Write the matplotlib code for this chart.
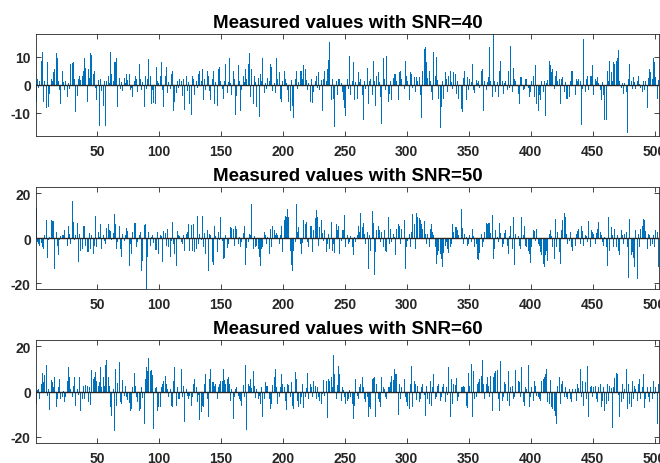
import numpy as np
import matplotlib.pyplot as plt

snr_levels = [40, 50, 60]

snr40 = [
    -6, 2, -1, 1.5, 8.5, 11.7, -6, 1.5, -8.3, 8, -8, -3.2, 2, 1.5, 4.5, 5.7, 11.4, 9.5, 1.2, -2, -7, 5, 1, -2, 1.4,
    -4.5, 0.8, -1.5, 7.5, 7.7, 8, 2.2, -9.8, -4, 2, 3, 1.8, 3, 5, 9.5, 6, -6, 5.7, 2.5, 11.5, 10.6, 4, 5, -1.3, -5.6,
    1.8, -14.8, 2, -2.2, -7.6, 1.2, -14.8, 1.5, 3, 0.8, 11.7, 4, 1.3, 8, 8, 9.5, -8, 2.4, -1.6, 1, -2.3, 2.5, 0.7, 4, 1.6,
    4, -1.8, -1, -4.5, 1.2, 3, 2, -2.7, 7.5, 2, -2, 1.1, -8, 3, -1.5, 2, 9.3, 3, -7, -2, -6.5, -7, 6.5, 1.3, 0.5,
    3, 8, -2, -8, 3, 6.5, -3, 1, -1.5, 4, 5, -9.5, -6, -3, 1.4, -1, 2, 1.2, -4, 2, -9, 3, -2.2, 1, -7,
    -10.7, 3, 2, -3.8, 1.5, -1, 4, 5, 1.2, 5.7, -5.6, 2, -1.8, 4.8, 3, -2.2, -5.6, 2, 4.8, -7, 1, -7.4, 5.7, 6.3, 1.2,
    -1.4, -5, 1.5, 7.5, -3, 1, 9.5, 0.5, -3.8, 4.8, 2, -10.7, -4, 7, 1.5, -9.2, -2, 3, 1, 5.7, 2, 7.5, 11.4, -4.4, 5.7,
    -6.8, 3.3, 1, -8, 2.3, -11.5, 4, 1.5, 9.5, -3, 0.6, -1.4, 2.4, 1.2, 7.5, 6.3, -2.1, 0.7, -3, 9.5, 2, 4.5, -5, -6, 1.3,
    5, 2, 0.5, -2, -6, -9.2, 1.8, -7.4, -12, 2, 4.8, -1.5, 1, 4.8, 5, 2, 7, 5.7, 1.6, -2, 0.6, -6, 2.2, -6.4, -2.6,
    1.3, 3.3, -1.2, 4.5, -2, 1.7, -9.2, 2, 5, 1.5, 5.7, 9, 15.5, -5.6, 2, -5, -15, 1.2, -3.8, 2, 2, 0.6, -2.5, -5.6, -8.3,
    -11, 2, -1.4, 10.5, -3.8, 1.5, 8, -5.6, 1, -5, 4.5, 1, 2.2, -3.8, -12.7, 1.2, -1.6, 6, -6.8, 1.4, 2, -3.8, 8.7, 1.2, -7.4,
    3.3, 4.5, 1, -4.4, -14, 9.5, 2, -1.8, 10.5, -6.2, -3.2, 1.3, -5.6, 2.4, 3.9, 3.9, 1.5, -5.6, 4.5, 4.8, 2, -2.2, -1.4, 8.7, 3.3,
    1.2, -5.6, 4.5, 3.9, -1, 2.7, -2.6, 2.7, 1.2, 2.7, -3.8, -12, 5.1, 12.9, 13.5, 8, 2.5, 5.1, 1.4, -2.6, -5.6, 11.7, 3.3, 9.9, 1.6,
    -5, -15.5, -8, 1.2, -5, 4.5, 2, -2.6, 3.3, 5.1, 1, -1.4, 4.5, 3.9, -3.2, 1.3, -5, -3.8, -8.6, -9.8, 2.4, 4.8, -5.6, 2.7, -2,
    2, 1, 7.5, -2, -2.9, 1.6, 0.5, 1.5, -1.2, 4.8, 5.7, -9.2, 1.5, -2, 1.1, 2.7, 13.5, 1.2, -4.4, 18.2, 1.5, -2.6, 1, -4.4, 5.1,
    8.7, 1.5, -3.2, 0.6, 1.3, -2, 5.1, -1.2, 14, -2.6, 6, 2.1, 1.5, -1, -3.2, -6.8, 2.7, 2.7, -2, -1.4, 2.1, 2.1, -1.1, -4.4, -2.6,
    1.2, 3.3, -4.4, 7, -6.8, -9.2, -3.8, -5.6, 1.4, -2.6, 1.5, -11, 0.5, 1.6, 8.7, 7.1, 4.5, 5.7, -1.4, 3.3, 5, 1.3, 2.1, -6.8, 2.1,
    2.7, -2.6, 1.1, -5, -5, -4.4, 1.3, 5, 4.8, 8, -3.8, 2.1, 1.5, 2.1, 1.2, -14.5, -1.4, 16.4, -2.6, 2.1, 3, -2, 3.3, 3.3, 7.1,
    -3.8, 2.1, 1.4, 2.7, 0.5, -2, -5.6, 1.1, -3.8, -12.7, -12.7, 5.1, 1.2, 8.7, 4.5, 1.5, 8, 7.5, 8.7, 9.5, 12.3, 1.2, -1.3, 0.5, -3.2,
    0.6, -2.6, -17.3, 2.1, 7.5, 1.2, -1.5, 2.7, 1, -1.4, 1.5, 3.3, 0.4, -1.1, -2.6, 1.5, -2, 1.3, -8.3, 2.4, 5.5, 4.5, 2, 9.5, 8,
    2.7, -5, 1.8,
]

snr50 = [
    13.5, -1.5, -2.5, -3.5, -2.2, -4, -4.7, 1.3, 8.1, -8.7, -1, 0.5, 8.1, 7.8, 7.4, -13.6, 2.7, -3.3, -7.7, -1, 0.8, 1.5, 1.2, 3.4, -0.6,
    -3.3, 5.6, 1.9, -2.4, 16.7, 7.1, -1, 1.6, 6.7, -10.7, 1.9, -5.5, -4.9, 5.6, 5.2, -3.3, -6.2, -6.2, 2.2, -4.7, 1.2, -7, -3.3, 9.8, -4,
    2.7, 0.5, 6.1, -4.7, 1.2, -1.4, -2.5, 4.4, 6.4, 3.4, 3, -1, 2.3, 10.8, 6.4, -4.7, -1.8, 5.2, -4.7, -8.4, 1.9, -1.2, 1.2, 4.6, 3.1,
    -12.6, -2.7, -7, 2.7, 6.8, 6.7, -4, -1.7, 1.2, 2.7, -14.4, -10, 5.8, 6.1, -22.5, -8.4, 2.7, -3.3, 0.4, 1.2, -2, -5.2, -5.2, 2.7, -7,
    1.2, 0.9, -10.7, 3, 2.4, -3.3, 4.1, -4, -8.4, -1.3, 7.1, -2.5, -7, -12.4, 3, 1.2, 0.9, -1.6, -2.8, 1.2, -5.5, 1.9, 2.7, 6.4, -5.5,
    6, -5.5, 6.4, -6.2, -4.7, 10, -2.5, 1.9, -0.9, 10, -4, 2.2, -7, 3.4, -14.4, 1.9, 1.2, -10.7, -12.1, 5.2, 0.9, -6.2, 2.7, -1, 9.6,
    -1.3, -9.2, -8.7, 1.6, -4.3, -2.5, -0.3, 4.9, 4.6, 4.2, -3.6, 5.2, 3.9, -2.5, 0.6, -4, -1.6, 2.4, 5.3, -12.1, -4.3, -1.5, 1.9, 1.5, 15,
    -4.7, 1.1, -4, -3.3, -4.7, -8.4, -12.6, -4.7, -4, 2.7, 1.2, -2.8, 0.7, -7, 3.9, -4, 5.2, 3.4, 1.2, 2.2, 1.4, -2.5, 1.2, 5.6, -6.2,
    7.9, 10, 9.3, 13, 9.3, -5.5, -12.1, -14.7, -5.5, -1.8, 15, 2.8, 4.9, -2.5, -7, -2, 7.9, 6.4, 7, -1.8, -4, 5.6, 5.2, -6.2, 3.4,
    9, 12.6, 9.3, -3.3, 4.9, 7.9, 2.2, -1.4, 3.4, -6.2, -2.5, 1.7, -4.7, 7.1, -5.5, -2.8, -6.7, 6.1, 3.4, 5.6, -7, -1.1, 3.4, 3.4, 10.5,
    -4, 1.3, -2.5, -1.8, 0.9, -4, -7.7, 0.4, -1.9, 1.2, 5.2, 2.6, 11.1, 4.9, 6.8, 1.9, -2.5, 2.7, -13.6, 1.5, -5.8, 12, 6.7, -16.6, -6.2,
    3.4, 5.6, 3.4, -1.8, 2.7, -4, 3.4, -5.5, -6.2, 9.6, -2.8, 4.1, -1.8, 1.9, 0.6, -7.4, 4.1, 6.1, 5.6, -2.5, 4.1, 4.9, 8.1, -13.6, -4,
    -1.2, 1.9, -4, 2.7, 10.8, 6.4, -4.7, 11.1, 9.3, 9, 7.9, 6.4, 4.2, 7.6, 1.8, -2.5, 1.9, -4, 4.2, 6.1, 2.7, 1.2, -4, -11.4, -7.7,
    -5.5, -7, -9.2, -12.9, -6.4, -3.3, -1.8, -4.7, -6.5, -3.9, -2.5, 6.1, 2.7, 4.9, 4.9, 3.4, 1.4, 2.7, 13, 4.6, -2.5, 1.9, 0.7, -3.3, -2.5,
    1.2, -1.8, 4.2, 1.1, -4, -2.5, -9.2, -9.6, -6.5, 1.9, -4, -1.6, 2.7, 6.7, 6.4, 6.7, 6.7, 2.4, 10.5, -9.2, -4.7, 3.4, 0.5, -1.8, 6.8,
    2.1, -4, -2.5, 2.4, 3.4, -3.3, -7, 0.9, 5.2, -4.7, 9.3, -12.1, 1.9, 1.2, 0.8, -3.3, -4.7, 9.3, 1.6, 5.6, -3.3, -4, -5.5, -7, -11.1,
    -4, 3.4, 3, -1.4, 3.9, -2.5, -3.3, -6.2, -7.7, -11.4, -12.9, -7.7, -5.5, -10, 1.9, 3.4, 1, -4, -9.2, 8.6, -4, 2.7, -6.2, -11.7, 3.4,
    7.9, 11.3, 9.3, 1.9, -2.5, -1.3, 2.7, -4, -5.5, -7.3, -3.3, 1.9, 3, 3.9, -2.5, 5.6, 3.1, -3.3, 1.6, 0.9, -1.8, 7.6, -4, 3.4, 2.7,
    1.9, -2.5, 2.2, 3.9, 7.1, 2.7, 1.2, -1.8, -3.3, 0.6, -4, -12.6, 9.3, -5.5, 4.9, 1.2, -4, 4.2, -4, 1.2, -5.5, -7.3, 3.4, 1.4, -2.5,
    1.9, 2.7, -4, -17.6, 8.3, -7.7, -6.2, -8.9, -12.9, 3.4, -18, 1.9, -4, 4.2, 5.6, 8.6, 7.9, 3.1, -4.7, 1.9, 1.2, -3.3, -2.5, 1.2, -4,
    3.4, 2.7, -13,
]

snr60 = [
    -5.5, 0.6, 1.3, -3.3, 3.4, 8.1, 4.4, 7.4, 11.6, -1.8, 1.2, -8.1, 5.2, 4.2, 2.2, 6.7, -7, -3.3, 1.9, 5.6, -3.3, -2.5, 0.4, -4.7, -2.5,
    4.9, 11.1, 6.7, 1.2, -2.2, 2.7, 6.7, -6.2, 1.2, -1.4, 6.7, -8.4, -3.3, 2.7, -3.3, 3, 2.7, -4.7, 2.2, -5.8, 9.6, 5.6, 6.7, 8.6, 4.9,
    2.7, 4.2, 11.1, 1.9, 6.7, 2.5, 11.6, 13.8, 6.4, 2.7, -6.7, -10.7, 1.2, -17.3, 9.8, -6.2, 3.7, 13, -4.7, -5.5, 5.2, -1.8, 2.7, -2.5, -3.7,
    -5.2, -8.4, -7.7, 1.9, 8.1, 2.4, -2.5, -4.7, -8.7, -7.7, 1.9, -2.8, -14.1, 5.6, 10.8, 9.3, 15, 9.3, 9.6, 7.4, -16.6, 1.6, 1.9, -8.4, -7,
    -7, 2.2, 3.4, 4.9, 7.1, 3.4, 1.1, -2.5, 1.2, -6.2, -7, 4.9, 10.8, -6.2, 1.9, -3.3, -3.3, 10, -2.5, 2.7, -13.3, 1.2, -1.8, -3.3, -1.8,
    -6.2, -2.5, 3.4, 5.6, 2.2, -4.7, -1.5, -12.6, -9.2, -6.2, -7, 3.4, 7.6, -3.3, -11.4, 5.6, 10, 4.2, 4.2, 2.7, 3.4, -3.3, 2.2, 3.4, 4.9,
    4.6, 10, 5.2, 3.4, 5.6, 6.4, 3.4, -4, 1.2, -11.9, -2.5, 1.2, 1.9, -1.8, -3.3, -4, -6.2, 3, -2.5, 12, -17, 3.4, 2.4, 5.6, 1.8,
    9.3, 2.7, -2.8, 1.2, -3.3, -1.8, -5.5, 1.9, -11.4, -3.3, 4.2, 2.7, 2.7, -3.3, -7.7, -5.5, 3.1, 6.7, 10, 2.2, -5.5, -2.5, 1.9, 7.9, 3.4,
    2.2, -4, -7.9, 3.4, 3, -2.5, 4.2, -6.2, -7.7, 8.9, 5.6, -4, -7, -5.5, -2.5, 3.4, -7.3, -2.5, 1.5, 8.3, -3.3, 3.4, 2.2, -2.5, 4.9,
    2.7, -3.3, 1.9, -2.2, -4, -5.5, -1, 5.2, -1.9, 4.9, -11.7, 5.6, 4.6, 6.4, 2.1, 16.4, 7.6, -3.3, 3.1, 11.3, 7.6, -4, 2.2, 0.7, -2.5,
    -5.5, -4, -3.3, 0.7, -2.5, -5.5, -11.9, -6.2, 5.6, -1.8, -3.3, 1.9, 3.4, 6.4, 2.2, -3.3, -4.7, -2.2, -11.1, -7, -7.7, 5.6, 6.1, 6.4, -11,
    3.4, -3.3, -4.7, -7, 6.4, 1.9, 1.2, -2.5, -3.3, 2.2, 1.9, 4.2, 7.1, 5.1, 9.8, 7.9, 7.9, -10.2, 3.4, -3.3, 1.9, 4.2, 5.6, -2.5, -4.7,
    -6.2, -7.7, 3.4, 11.3, -7, 4.9, 3.4, -3.7, 2.7, -4.7, -3.3, 1.9, 3.4, -1.3, -10.7, 2.7, -3.3, -5.5, 4.9, -6.2, 1.9, 7.9, -3.3, -2.5, 2.7,
    3.4, -4, -2.5, 1.9, 3.4, -4.7, 1.9, -1.6, 10.8, -11.4, 5.6, -5.5, 3.4, 3.1, 6.1, -4, -2.5, 3.4, 2.2, 2.2, 2.7, 1.9, -6.2, -7.3, 8.1,
    2.5, 12.3, -11.4, 9.3, -3.3, -2.5, 3.4, 4.4, 5.6, 6.8, 13.8, 3.4, -3.3, 3.4, 6.4, 2.7, -2.5, 7.1, -8.7, 6.4, 8.1, 9.3, 9.6, -3.3, -8.7,
    13.5, -4, -2.5, 4.2, 3.4, -4, 9, -6.2, 1.9, 2.7, -3.3, -2.5, 9.6, -2.2, 4.9, 4.4, -2.5, 11.1, -4.7, -6.2, 2.2, 1.3, 12, -7, -2.5,
    1.9, -4, 4.9, 2.7, -1.8, -2.5, -3.3, -4, 4.9, 5.6, 6.7, 7.9, 9.8, -4.7, -5.5, 5.2, -7, -7.7, -8.7, -10.7, -14.1, 2.7, 6.4, -5.5, 3.4,
    4.9, -2.5, 1.9, -2.5, -3.3, 1.2, -3.3, -4.7, 1.2, -2.5, 1.2, -4, 3.4, 1.6, 10, -2.5, 4.9, -6.2, 4.2, -3.3, 11.3, -11.1, 1.9, 2.7, -2.5,
    2.2, 2.7, -3.3, -4.7, 1.9, 3.4, -7, -4, 1.9, -8.7, -5.5, 3.4, -4, 2.7, 1.4, -15.9, 2.2, 6.1, 8.1, 7.6, -1.5, -11.4, -4.7, 3.4, -3.3,
    1.2, 10, -7.7, 3.4, -5.5, -6.7, 4.9, -3.3, 2.7, 1.2, -4, 3.4, 5.6, -3.3, 1.9, 7.9, -7.3, -3.3, 1.9, -2.5, -4.7, 1.9, -3.3, 4.9, -1.2,
    2, -14.1, 3.4,
]

y_limits = [18.2, 22.6, 22.7]
y_ticks = [[-10, 0, 10], [-20, 0, 20], [-20, 0, 20]]
x_ticks = list(range(50, 501, 50))

plt.rcParams['font.family'] = ['Liberation Sans', 'DejaVu Sans']
plt.rcParams['font.weight'] = 'bold'
plt.rcParams['axes.unicode_minus'] = False

fig = plt.figure(figsize=(6.6, 4.64), dpi=100)

boxes = [
    [0.0541, 0.7054, 0.9444, 0.2192],
    [0.0541, 0.3750, 0.9444, 0.2192],
    [0.0541, 0.0431, 0.9444, 0.2213],
]

for snr, vals, box, ylim, yt in zip(snr_levels, [snr40, snr50, snr60], boxes, y_limits, y_ticks):
    print(snr, len(vals))
    ax = fig.add_axes(box)
    x = np.arange(1, len(vals) + 1)
    ax.bar(x, vals, width=0.8, color='#0072BD', linewidth=0)
    ax.axhline(0, color='#262626', lw=1.0)
    ax.set_xlim(0.6, len(vals) + 0.6)
    ax.set_ylim(-ylim, ylim)
    ax.set_xticks(x_ticks)
    ax.set_yticks(yt)
    ax.tick_params(direction='in', top=True, right=True, length=3.6, width=0.6,
                   labelsize=10, color='#262626', labelcolor='#262626')
    ax.tick_params(axis='x', pad=6)
    ax.tick_params(axis='y', pad=3.5)
    for s in ax.spines.values():
        s.set_color('#262626')
        s.set_linewidth(0.6)
    ax.set_title(f'Measured values with SNR={snr}', fontsize=13.5,
                 fontweight='bold', pad=5, color='black')

fig.savefig('out.png', dpi=100)
